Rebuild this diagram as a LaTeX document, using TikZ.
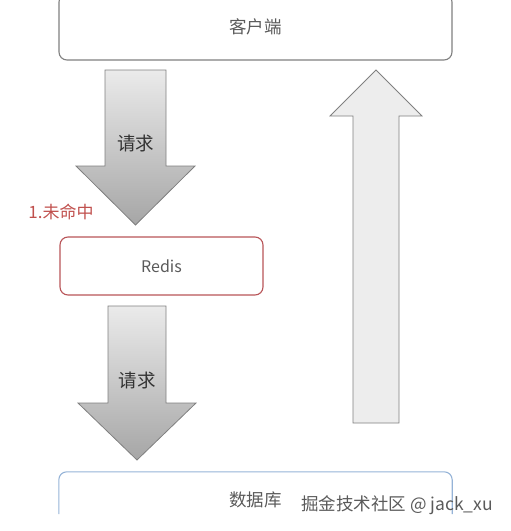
\documentclass[tikz,border=0pt]{standalone}
\usepackage{fontspec}
\setmainfont{Noto Sans CJK SC}
\definecolor{boxgray}{HTML}{808080}
\definecolor{redisred}{HTML}{B85458}
\definecolor{dbblue}{HTML}{95B3D7}
\definecolor{txtgray}{HTML}{5A5A5A}
\definecolor{missred}{HTML}{C0504D}
\begin{document}
\begin{tikzpicture}[x=1pt,y=-1pt,
  box/.style={rounded corners=8pt, minimum width=393pt, font=\fontsize{17.5}{19}\selectfont, text=txtgray},
  downarrow/.style={draw=boxgray, line width=0.8pt, top color=black!8, bottom color=black!35},
  uparrow/.style={draw=boxgray, line width=0.8pt, fill=black!7},
  arrowtext/.style={font=\fontsize{18.5}{20}\selectfont, text=black!80}]
\useasboundingbox (0,0) rectangle (511,531);
\clip (0,0) rectangle (511,531);
% boxes
\node[box, draw=boxgray, line width=1.1pt, minimum height=66pt] (client) at (255.5,27) {客户端};
\node[box, draw=redisred, line width=1.1pt, minimum width=203pt, minimum height=58pt, font=\fontsize{16}{18}\selectfont] (redis) at (161.5,266) {Redis};
\node[box, minimum height=56pt] (db) at (255.5,500) {数据库};
\draw[dbblue, line width=1.1pt, rounded corners=8pt] ([yshift=14pt]db.south west) -- (db.north west) -- (db.north east) -- ([yshift=14pt]db.south east);
% block arrows
\draw[downarrow] (105,70) -- (166,70) -- (166,166) -- (195,166) -- (135.5,225) -- (76,166) -- (105,166) -- cycle;
\node[arrowtext] (req1) at (135.5,143) {请求};
\draw[downarrow] (108,306) -- (166,306) -- (166,403) -- (196,403) -- (137,460) -- (78,403) -- (108,403) -- cycle;
\node[arrowtext] (req2) at (137,380) {请求};
\draw[uparrow] (353,423) -- (399,423) -- (399,116) -- (422,116) -- (376,70) -- (330,116) -- (353,116) -- cycle;
% labels
\node[font=\fontsize{17}{19}\selectfont, text=missred] (miss) at (61,212) {1.未命中};
\node[font=\fontsize{17.5}{19}\selectfont, text=txtgray] (mark) at (397,505) {掘金技术社区 @ jack\_xu};
\end{tikzpicture}
\end{document}
